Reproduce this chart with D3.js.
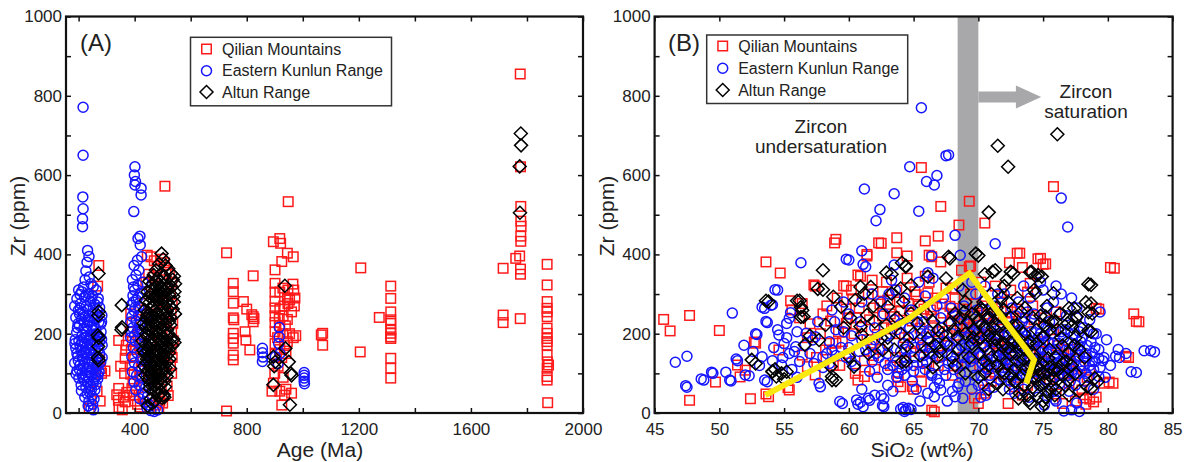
<!DOCTYPE html>
<html>
<head>
<meta charset="utf-8">
<script src="https://cdn.jsdelivr.net/npm/d3@7"></script>
<style>
  body { margin: 0; background: #fff; }
  svg { display: block; font-family: "Liberation Sans", Arial, Helvetica, sans-serif; }
</style>
</head>
<body>
<svg id="chart" width="1189" height="462"></svg>
<script>
// ---------- Series names and legend ----------
const seriesNames = ["Qilian Mountains", "Eastern Kunlun Range", "Altun Range"];

// ---------- Panel A: Zr (ppm) against age (Ma), [age, Zr] ----------
const qilianAge = [
  [272,372],[268,320],[275,134],[278,112],[294,106],[282,100],[238,12],[277,30],[266,55],
  [343,183],[370,171],[368,158],[366,138],[350,118],[343,62],[336,46],[342,32],[360,40],[366,28],[344,14],[356,8],[372,52],[364,100],[382,45],
  [386,250],[390,228],[384,205],[392,180],[388,160],[395,140],[390,120],[386,98],[394,80],[390,62],[398,45],[402,30],[410,22],[420,15],[430,40],[436,70],
  [445,398],[458,394],[470,384],[494,388],[506,379],[480,370],[512,360],[524,350],[532,330],[528,300],[534,276],[530,250],[536,226],[532,204],[538,182],
  [530,160],[534,140],[528,120],[532,100],[420,260],[426,300],[440,330],[450,350],[466,342],[428,130],[424,110],[418,90],[412,198],[416,170],
  [476,20],[490,30],[500,25],[486,12],[516,68],[520,44],[508,572],[470,300],[460,250],[480,200],[490,150],[470,100],[455,180],[500,280],[510,230],[495,60],
  [728,404],[728,5],[752,327],[752,306],[752,277],[752,240],[754,235],[752,201],[752,188],[752,176],[752,146],[752,134],
  [788,281],[800,262],[823,243],[823,230],[794,205],[797,184],[811,159],[823,346],[818,248],[826,238],
  [895,432],[918,440],[921,428],[901,361],[925,382],[945,403],[966,394],[948,533],[901,327],[901,305],[918,305],[929,315],[947,310],[945,290],
  [953,285],[901,282],[901,265],[918,262],[932,270],[947,276],[960,255],[901,245],[916,238],[930,245],[945,236],[901,228],[918,220],[938,220],
  [953,200],[966,190],[901,205],[929,200],[910,190],[935,170],[901,175],[945,180],[918,160],[940,150],[901,148],[925,140],[912,118],[900,100],
  [930,90],[895,75],[890,55],[918,55],[940,60],[935,45],[925,20],[960,50],[965,325],[968,310],[972,290],[970,270],[975,195],
  [1071,201],[1066,197],[1071,171],[1207,366],[1205,154],[1273,241],
  [1314,320],[1314,289],[1314,255],[1314,235],[1314,226],[1314,209],[1314,201],[1314,192],[1314,188],[1314,138],[1314,113],[1314,88],
  [1715,365],[1715,247],[1715,228],
  [1776,855],[1777,621],[1778,521],[1778,484],[1779,471],[1778,446],[1778,433],[1774,396],[1760,390],[1777,363],[1777,350],[1776,238],
  [1872,375],[1872,323],[1872,281],[1872,264],[1872,255],[1872,243],[1872,214],[1872,201],[1872,188],[1872,180],[1872,171],[1872,146],
  [1873,129],[1872,113],[1872,92],[1872,83],[1874,26],[1877,121]
];

const kunlunAge = [
  [216,771],[216,650],[215,545],[216,515],[214,490],[214,470],[232,410],[237,395],[230,380],[226,358],[223,336],[218,318],[211,306],[238,343],
  [244,326],[252,318],[263,310],[205,299],
  [194,288],[221,292],[236,301],[249,296],[270,289],[207,276],[228,270],[242,281],[258,274],[275,266],[199,259],[215,255],[233,262],[251,249],
  [266,257],[283,246],[190,241],[210,236],[224,243],[239,230],[257,238],[272,229],[203,221],[219,214],[246,219],[262,212],[280,205],[193,203],
  [213,197],[229,206],[240,190],[255,199],[271,193],[201,182],[222,176],[236,185],[250,171],[266,179],[284,171],[190,163],[209,158],[227,165],
  [243,152],[259,160],[275,150],[197,143],[215,137],[232,146],[248,133],[264,141],[186,126],[205,121],[222,128],[238,115],[255,124],[270,118],
  [194,106],[212,100],[229,109],[245,96],[261,103],[201,88],[219,83],[236,91],[252,77],[268,86],[209,71],[226,64],[243,69],[258,58],[231,48],
  [248,42],[237,30],[250,22],[244,12],[253,8],[219,152],[234,233],[253,266],[212,180],[268,134],[198,225],[243,172],[260,92],[228,192],[217,247],
  [206,264],[279,224],[273,104],[188,185],[191,98],
  [200,310],[226,296],[246,288],[268,280],[186,270],[203,250],[221,228],[236,244],[255,222],[267,240],[282,230],[196,215],[231,220],[250,208],
  [265,198],[282,186],[187,175],[205,170],[219,190],[243,196],[258,184],[274,180],[194,150],[212,145],[225,155],[240,160],[253,146],[270,160],
  [284,140],[199,132],[216,118],[234,124],[250,110],[263,120],[279,128],[203,110],[224,96],[241,104],[255,86],[269,96],[215,90],[232,78],
  [246,60],[262,72],[222,40],[240,52],[255,35],[234,18],[210,56],
  [401,621],[399,600],[403,584],[401,575],[423,567],[423,550],[397,508],[419,446],[420,424],[425,394],[410,385],[398,372],[415,360],[405,348],
  [392,336],[411,322],[400,310],[420,302],[394,296],[406,285],[388,272],[415,268],[398,258],[426,250],[390,244],[405,232],[418,224],[393,215],
  [410,206],[428,198],[386,190],[402,182],[418,174],[395,165],[432,160],[408,152],[390,142],[422,136],[399,126],[414,118],[436,112],[392,104],
  [407,95],[425,88],[398,78],[416,70],[440,64],[404,58],[428,50],[446,42],[418,36],[438,28],[452,20],[444,12],[458,6],[470,4],[482,8],
  [434,190],[440,240],[445,150],[430,330],[412,440],[386,230],[396,318],[412,292],[402,266],[389,205],[414,246],[400,196],[421,210],[395,280],
  [856,163],[856,152],[856,130],[858,141],[916,216],[916,192],[914,175],[918,150],[902,142],[912,125],
  [1005,102],[1005,95],[1005,88],[1005,80],[1006,74]
];

const altunAge = [
  [271,352],[272,256],[270,246],[268,196],[272,190],[270,168],[269,140],[271,133],[354,272],[353,210],[355,216],
  [496,402],[502,388],[488,376],[510,372],[476,360],[520,364],[530,352],[540,345],[536,336],[544,326],[532,318],[542,306],[538,294],[540,280],
  [536,262],[544,250],[538,186],[542,178],[534,170],[468,348],[482,340],[495,352],[506,344],[452,332],[464,326],[478,318],[492,330],[504,322],
  [516,312],[446,306],[458,300],[472,296],[486,308],[498,300],[510,290],[522,298],[440,284],[452,278],[466,272],[480,286],[494,276],[506,268],
  [518,280],[436,260],[448,254],[462,264],[476,250],[490,258],[502,246],[514,256],[526,242],[442,238],[456,232],[470,240],[484,228],[498,236],
  [510,224],[522,230],[438,216],[450,210],[464,218],[478,206],[492,214],[504,202],[516,210],[444,194],[458,188],[472,196],[486,184],[500,192],
  [512,180],[440,172],[452,166],[466,174],[480,162],[494,170],[506,158],[518,166],[436,150],[448,144],[462,152],[476,140],[490,148],[502,136],
  [514,144],[442,128],[456,122],[470,130],[484,118],[498,126],[510,114],[446,106],[460,100],[474,108],[488,96],[500,104],[514,92],[450,84],
  [464,78],[478,86],[492,74],[506,80],[454,62],[468,56],[482,64],[496,52],[504,46],[506,40],[458,36],[472,30],[446,18],[462,24],[432,226],
  [428,182],[434,118],[524,136],[526,112],[520,200],
  [445,245],[459,240],[473,258],[487,242],[501,254],[515,240],[448,222],[461,206],[475,224],[489,200],[503,218],[517,196],[441,200],[455,176],
  [469,186],[483,174],[497,180],[511,168],[447,158],[461,140],[475,156],[489,134],[503,146],[517,130],[444,136],[458,112],[472,118],[486,106],
  [500,114],[512,100],[452,92],[466,90],[480,74],[494,86],[508,66],[456,72],[470,68],[484,44],[498,38],[455,292],[469,284],[483,298],[497,288],
  [511,278],[462,312],[476,330],[490,318],[505,310],[519,320],[526,268],[527,222],[528,186],[522,152],[431,158],[438,95],
  [936,321],[938,163],[950,129],[957,100],[895,142],[902,129],[898,118],[895,71],[954,21],[960,95],
  [1778,705],[1779,675],[1774,622],[1775,505]
];

// ---------- Panel B: Zr (ppm) against SiO2 (wt%), [SiO2, Zr] ----------
const qilianSi = [
  [45.7,236],[46.2,207],[47.7,246],[47.7,32],[50.0,208],[49.7,78],[52.4,36],[52.7,179],[51.4,121],[53.6,381],[54.7,353],[53.6,48],[55.3,64],
  [55.5,283],[57.3,323],[58.9,429],[59.0,438],[59.6,321],[60.7,348],[61.4,400],[62.3,429],[63.7,442],[63.7,404],[64.5,396],[65.6,619],[65.9,434],
  [66.2,398],[66.9,446],[67.1,521],[68.5,474],[69.3,534],[70.5,479],[69.4,371],[73.0,403],[72.4,379],[74.6,389],[75.0,375],[75.8,571],[80.2,367],
  [79.1,264],[82.0,250],[82.2,231],[81.4,143],[80.1,78],[63.8,79],[63.8,92],[64.9,67],[66.4,7],[65.6,79],[69.7,38],[70.5,50],
  [52.0,108],[51.6,91],[52.8,176],[54.6,159],[55.4,58],[53.8,41],[55.6,260],[56.4,276],[56.8,117],[57.4,96],[58.5,176],[58.2,159],[56.4,146],
  [57.4,320],[62.5,428],[61.4,396],[60.9,345],[61.8,335],[59.8,320],[62.6,306],[65.1,306],[66.1,303],[67.8,269],[63.5,243],[59.8,226],[59.0,176],
  [61.8,176],[60.7,83],[61.2,92],[64.0,66],[65.0,60],[66.6,3],[70.0,24],[70.5,58],[66.4,394],[67.1,381],[69.3,369],[68.7,360],[73.2,403],
  [73.4,367],[74.8,390],[75.2,376],[74.0,327],[80.5,365],[79.3,262],[82.4,230],[81.6,140],[80.4,75],[79.7,75],[78.6,108],[78.3,22],[78.6,35],
  [78.9,28],[79.1,40],[78.0,58],[78.1,38],[77.0,75],[76.5,24],[72.8,66],[72.3,24],[73.4,45],[76.0,48],[77.5,30],[75.5,85],
  [58.0,250],[58.6,232],[59.2,205],[59.8,262],[60.3,288],[60.6,240],[61.0,218],[61.5,300],[61.9,265],[62.2,198],[62.6,245],[63.0,285],
  [63.3,212],[63.7,310],[64.0,258],[64.3,190],[64.6,276],[64.9,232],[65.2,298],[65.5,214],[65.8,262],[66.1,180],[66.4,244],[66.7,290],
  [67.0,205],[67.3,252],[67.6,170],[67.9,232],[68.2,288],[68.5,196],[68.8,262],[69.1,215],[69.4,300],[69.7,245],[70.0,188],[70.3,270],
  [70.6,222],[70.9,160],[71.2,250],[71.5,195],[71.8,280],[72.1,148],[72.4,228],[72.7,180],[73.0,262],[73.3,120],[73.6,205],[74.0,150],
  [74.3,235],[74.6,110],[75.0,180],[75.4,130],[75.8,210],[76.2,100],[76.6,160],[77.0,130],[77.4,95],[77.8,120],[60.0,150],[61.2,132],
  [62.4,160],[63.6,140],[64.8,155],[66.0,128],[67.2,145],[68.4,120],[69.6,138],[70.8,112],[72.0,98],[57.5,140],[56.8,190],[58.8,120],
  [62.0,110],[65.5,105],[68.0,95],[71.0,80],[73.8,70],[57.0,225],[66.2,330],[70.2,330],[72.5,310],[68.0,315],[64.5,340],[59.5,180],
  [58.3,270],[59.1,290],[59.9,240],[60.8,265],[61.6,235],[62.4,275],[63.2,250],[63.9,280],[64.7,245],[65.4,270],[66.3,260],[67.2,275],
  [68.0,250],[68.9,235],[69.8,275],[70.7,250],[71.6,235],[72.5,255],[73.4,240],[74.2,270],[75.1,240],[76.0,255],[60.4,200],[61.4,185],
  [62.7,215],[63.9,200],[65.0,175],[66.5,215],[67.6,195],[68.6,225],[69.6,205],[70.5,195],[71.5,175],[72.3,165],[73.5,180],[74.7,155],
  [76.1,170],[77.2,160],[78.2,140],[59.3,120],[60.5,100],[61.9,145],[63.2,120],[64.3,130],[65.7,165],[66.9,120],[68.8,140],[70.1,120],
  [71.3,100],[72.6,130],[74.1,90],[75.5,105],[77.0,100],[78.4,90],[62.9,330],[60.2,310],[65.9,345],[67.5,315],[71.3,320],[73.8,305],
  [56.2,240],[57.8,200]
];

const kunlunSi = [
  [65.6,770],[67.5,649],[66.8,599],[66.0,584],[66.6,575],[64.7,621],[61.2,565],[63.5,553],[62.4,513],[62.1,485],[65.4,509],[68.2,448],[68.6,398],
  [71.3,427],[76.4,542],[76.9,469],[56.3,379],[54.3,311],[51.0,252],[59.8,388],[61.0,409],[61.1,375],[46.6,128],[47.5,143],[47.4,69],[48.6,86],
  [49.4,103],[50.8,83],[50.5,103],[51.9,171],[52.8,200],[53.6,231],[54.1,273],[53.3,267],[51.3,136],[52.3,94],[53.5,83],[59.3,29],[60.6,33],
  [60.9,27],[61.5,37],[62.5,44],[62.6,19],[64.0,10],[64.2,14],[64.4,8],[64.6,12],[64.8,9],[64.3,4],[81.4,150],[80.6,143],[81.8,104],[82.8,157],
  [83.3,157],[79.3,138],[76.6,5],[77.2,8],[77.8,4],
  [50.9,81],[51.4,132],[52.0,96],[52.9,198],[53.3,142],[53.7,228],[53.5,264],[54.0,272],[54.5,310],[54.1,132],[54.6,197],[54.5,210],[55.2,226],
  [55.4,239],[55.5,253],[54.8,121],[55.4,150],[55.8,155],[55.9,167],[56.7,201],[57.2,184],[57.4,192],[57.7,75],[57.8,66],[58.0,142],[58.5,125],
  [58.7,159],[53.7,79],[49.5,100],[48.8,83],[47.5,65],
  [66.1,354],[66.4,396],[63.3,335],[60.0,386],[61.3,369],[63.5,373],[67.7,651],[59.5,24],[60.7,22],[61.1,16],[61.6,32],[62.7,36],[62.7,16],
  [66.1,50],[66.6,41],[67.1,58],[68.2,41],[68.8,37],[68.4,66],[69.5,60],[70.0,70],[65.5,30],[67.6,30],[80.9,140],[82.2,102],[83.6,154],
  [79.6,132],[79.3,92],
  [58.5,180],[59.0,210],[59.4,165],[59.8,140],[60.2,195],[60.5,120],[60.9,230],[61.3,160],[61.6,105],[62.0,185],[62.3,140],[62.7,250],
  [63.0,170],[63.4,120],[63.7,210],[64.0,155],[64.3,95],[64.6,190],[65.0,140],[65.3,230],[65.6,170],[65.9,110],[66.2,205],[66.5,150],
  [66.8,85],[67.1,240],[67.4,180],[67.7,125],[68.0,200],[68.3,160],[68.6,100],[68.9,270],[69.2,190],[69.5,140],[69.8,300],[70.1,220],
  [70.4,165],[70.7,110],[71.0,260],[71.3,195],[71.6,145],[71.9,90],[72.2,240],[72.5,180],[72.8,130],[73.1,280],[73.4,205],[73.7,155],
  [74.0,100],[74.3,250],[74.6,190],[74.9,140],[75.2,85],[75.5,230],[75.8,175],[76.1,125],[76.4,300],[76.7,210],[77.0,160],[77.3,110],
  [77.6,240],[77.9,180],[78.2,130],[78.5,90],[78.8,150],[79.1,200],[61.0,60],[63.0,70],[65.2,60],[67.0,75],[69.0,80],[71.2,65],[73.5,60],
  [75.6,55],[77.5,70],[62.2,90],[64.5,120],[66.0,130],[67.5,95],[69.6,115],[71.5,120],[73.0,110],[74.5,115],[76.2,95],[78.0,105],[60.0,250],
  [62.5,280],[64.8,260],[66.8,270],[68.2,245],[70.5,285],[72.0,300],[74.0,290],[75.8,280],[77.2,290],[76.0,320],[75.0,310],[65.5,185],
  [66.3,165],[67.0,140],[68.7,170],[69.9,180],[70.9,150],[72.1,160],[73.3,170],[74.4,160],[75.3,150],[76.6,140],[77.8,145],[68.0,130],
  [69.3,225],[70.3,125],[71.7,215],[72.7,95],[73.9,220],[75.1,195],[76.9,180],[78.4,170],[64.0,225],[63.2,200],[62.0,215],[61.0,185],
  [60.0,165],[59.0,145],[58.0,115],[57.0,150],[56.2,130],[55.6,110],[56.0,90],[55.0,175],[57.6,230],[58.7,260],[59.6,280],[61.8,300],
  [63.6,310],[65.4,330],[66.5,340],[68.5,320],[69.5,330],[70.5,320],[71.5,300],[73.5,320],[74.8,330],
  [70.8,240],[71.8,175],[72.9,205],[74.2,180],[75.4,120],[76.8,115],[77.4,200],[78.1,215],[78.9,110],[69.1,150],[70.2,95],[73.6,135],
  [74.7,70],[76.3,75],[72.4,60],[70.6,45],[73.9,40],[75.9,35],[67.9,265],[68.8,215],[66.9,190],[65.8,230],[64.2,175],[63.8,100],[62.8,125],
  [62.1,150],[62.9,195],[63.5,235],[64.1,110],[64.7,215],[65.1,165],[65.7,125],[66.0,200],[66.4,95],[66.9,175],[67.2,215],[67.6,150],
  [68.1,110],[68.4,235],[68.9,140],[69.3,170],[69.7,95],[70.0,205],[70.2,145],[70.6,190],[71.0,120],[71.1,230],[71.4,165],[71.8,135],
  [72.0,205],[72.3,110],[72.6,150],[72.9,245],[73.2,140],[73.5,185],[73.8,115],[74.1,205],[74.3,130],[74.7,225],[75.0,160],[75.3,105],
  [75.6,200],[75.9,140],[76.2,175],[76.5,110],[76.8,245],[77.1,135],[77.4,170],[77.7,100],[78.0,190],[78.3,150],[78.6,120],[79.0,165],
  [79.4,115],[79.7,140],[74.0,140],[73.2,95],[71.6,85],[70.4,70],[68.5,75],[66.6,65],[64.9,80],[63.4,55],[62.0,45],[72.8,50],[74.6,40],
  [76.0,30],[77.6,25],[75.1,20],[78.9,60],[77.0,55],[79.8,90],[70.2,40],[68.0,55],[66.4,100],[65.0,105],[63.7,90],[61.8,130],[60.8,155],
  [60.2,130],[59.6,205],[58.9,230],[58.3,150],[57.3,125],[56.6,170],[56.0,205],[55.2,190],[54.2,165],[53.1,120],[52.6,155],[54.9,140],
  [69.9,260],[71.3,270],[72.6,265],[73.8,255],[75.3,265],[76.3,250],[77.6,265],[78.6,235],[79.4,255],[67.3,290],[65.9,295],[64.3,290],
  [63.1,300],[61.0,280],[66.2,150],[67.8,170],[69.4,200],[70.8,185],[72.3,195],[73.7,195],[75.1,175],[76.4,205],[77.8,205],[78.9,200],
  [74.8,100],[76.0,110],[77.2,125],[73.1,165],[71.9,150],[70.6,130],[69.0,125],[67.4,110],[65.8,145],[64.4,140],[63.0,150],[61.7,170],
  [68.3,185],[69.7,160],[70.9,205],[72.4,125],[73.4,230],[74.2,125],[75.7,130],[76.9,95],[78.2,80],[80.2,120],[79.9,185],[80.8,160],
  [70.1,150],[70.5,115],[70.9,95],[71.2,180],[71.6,200],[71.9,115],[72.1,135],[72.4,215],[72.7,165],[73.0,85],[73.3,120],[73.6,240],
  [73.9,175],[74.2,150],[74.5,135],[74.8,200],[75.1,140],[75.4,180],[75.7,110],[76.0,160],[76.3,130],[76.6,190],[76.9,150],[77.2,100],
  [77.5,140],[77.8,170],[78.1,120],[78.4,140],[78.7,180],[79.0,130],[79.3,160],[74.5,80],[75.9,90],[77.1,80],[78.3,100],[73.7,90],
  [72.5,80],[71.4,140],[70.3,175],[69.4,130],[68.7,120],[67.9,145],[67.1,165],[66.3,180],[65.6,200],[65.0,120],[64.4,160],[63.7,130],
  [63.0,110],[69.0,165],[70.7,155],[72.0,140],[73.4,145],[74.9,165],[76.1,145],[77.5,155],[78.8,130],[76.9,205],[75.2,215],[73.2,210]
];

const altunSi = [
  [76.1,703],[71.5,674],[72.3,621],[70.8,506],[69.8,402],[67.7,394],[58.0,360],[53.6,283],[56.0,283],[56.3,267],[56.3,242],[57.6,313],[78.5,325],
  [78.3,279],[78.5,254],[78.5,208],[77.0,264],[71.1,356],[72.5,356],[74.0,355],[74.4,346],[62.9,354],[64.1,379],[64.4,371],[55.2,104],[54.3,110],
  [54.1,105],[58.7,92],[64.1,129],[79.0,88],[78.4,67],
  [70.0,397],[67.8,390],[64.4,369],[63.3,350],[66.1,344],[67.5,339],[70.5,350],[71.3,360],[58.8,293],[60.9,318],[61.7,318],[61.2,301],[60.5,285],
  [59.4,268],[63.3,301],[64.0,314],[64.8,322],[63.0,268],[64.2,280],[64.8,251],[65.6,272],[61.4,247],[60.9,218],[62.9,222],[62.6,159],[61.0,197],
  [60.0,142],[59.0,83],[60.4,117],[64.4,130],[66.1,188],[66.9,209],[67.8,226],[68.2,251],[68.4,192],
  [72.7,352],[74.1,356],[74.6,348],[74.9,344],[72.2,336],[74.3,310],[74.4,302],[75.8,302],[78.7,323],[78.7,276],[78.8,251],[78.7,205],[77.4,264],
  [77.6,243],[77.2,218],[75.2,243],[75.7,230],[76.9,226],[75.4,138],[74.5,175],[75.8,109],[76.5,125],[76.9,83],[79.2,79],[78.7,62],[75.7,66],
  [75.2,41],[74.4,58],[73.9,33],[73.1,37],[74.9,16],[72.8,79],
  [58.0,311],[53.8,281],[56.2,283],[56.4,259],[56.5,243],[58.2,222],[57.7,184],[56.6,172],[52.5,134],[52.8,125],[54.1,104],[54.4,92],[54.8,100],
  [55.0,85],[58.7,83],[58.6,117],
  [69.0,280],[69.5,250],[70.0,230],[70.3,260],[70.6,210],[70.9,240],[71.2,190],[71.5,220],[71.8,170],[72.1,200],[72.4,150],[72.7,180],[73.0,130],
  [73.3,160],[73.6,110],[73.9,140],[74.2,90],[74.5,120],[74.8,70],[75.1,100],[75.4,55],[70.0,150],[70.5,170],[71.0,140],[71.5,120],[72.0,260],
  [72.5,240],[73.0,220],[73.5,200],[74.0,180],[74.5,210],[75.0,190],[75.5,160],[76.0,140],[76.5,170],[77.0,150],[77.5,190],[69.5,175],[69.0,200],
  [68.5,160],[68.0,140],[67.5,175],[67.0,155],[66.5,230],[66.0,250],[65.0,200],[64.5,170],[63.5,160],[63.0,190],[62.0,230],[61.5,150],[65.5,145],
  [66.5,115],[69.0,100],[70.0,90],[71.5,75],[72.5,95],[73.5,70],[76.0,60],[77.0,45],[77.5,100],[76.5,95],[75.5,210],[76.0,230],[71.0,300],
  [72.0,320],[73.0,290],[68.8,310],[70.5,100],[71.8,105],[73.2,50],[74.0,25],[75.0,30],
  [69.2,230],[69.7,210],[70.2,190],[70.7,240],[71.1,215],[71.3,170],[71.7,245],[72.0,175],[72.2,125],[72.6,205],[72.9,150],[73.2,185],
  [73.4,95],[73.7,160],[74.0,120],[74.3,145],[74.6,95],[74.9,125],[75.2,80],[75.5,115],[75.8,85],[76.2,110],[76.8,130],[77.2,120],
  [77.8,160],[78.2,140],[70.4,280],[71.4,265],[72.3,280],[73.3,255],[74.2,240],[75.3,270],[76.3,250],[77.2,235],[68.6,240],[68.1,210],
  [67.2,200],[66.7,170],[66.0,160],[65.3,225],[64.0,200],[62.5,190],[71.9,60],[72.9,80],[74.2,65],[75.9,45],[76.7,70],[77.8,55],
  [73.8,45],[70.8,60],[69.3,140],[70.8,120],[72.0,100],[68.2,120],[66.8,140],[63.7,240],[61.9,270],[60.1,240],[59.6,215],[57.0,195],
  [69.8,240],[70.4,215],[70.8,195],[71.1,255],[71.4,185],[71.9,225],[72.3,165],[72.7,220],[73.1,175],[73.5,135],[73.8,175],[74.1,105],
  [74.4,135],[74.7,110],[75.1,75],[75.5,95],[72.8,110],[71.6,145],[70.5,130],[69.6,190],[76.4,190],[77.4,170],[76.1,210],[75.1,220],
  [77.9,215],[73.6,265],[74.8,245],[70.2,265],[68.9,255],[71.8,290]
];

// Zircon saturation trend drawn over panel B
const trendSi = [53.55, 64.5, 69.3, 74.3, 73.7];
const trendZr = [45, 235, 352, 134, 75];

// Saturation band and arrow (SiO2 wt%, Zr ppm)
const bandSi = [68.4, 70.0];
const arrowSi = [70.0, 72.9, 74.85];
const arrowZr = 797;

// Tick values
const zrTicks = d3.range(0, 1001, 100);
const zrLabels = [0, 200, 400, 600, 800, 1000];
const ageTicks = d3.range(200, 2001, 200);
const ageLabels = [400, 800, 1200, 1600, 2000];
const siTicks = [45, 50, 55, 60, 65, 70, 75, 80, 85];

// ---------- Layout ----------
const svg = d3.select("#chart");
const plotTop = 16.5, plotBottom = 413;
const y = d3.scaleLinear().domain([0, 1000]).range([plotBottom, plotTop]);
const xA = d3.scaleLinear().domain([155, 2000]).range([66, 583]);
const xB = d3.scaleLinear().domain([45, 85]).range([654.6, 1172.6]);

const colors = { square: "#ff1a1a", circle: "#1515ff", diamond: "#000000" };
const markStroke = 1.5;

function drawSeries(g, data, x, kind) {
  const grp = g.append("g").attr("fill", "none").attr("stroke", colors[kind]).attr("stroke-width", markStroke);
  if (kind === "square") {
    grp.selectAll("rect").data(data).join("rect")
      .attr("x", d => x(d[0]) - 4.75).attr("y", d => y(d[1]) - 4.75)
      .attr("width", 9.5).attr("height", 9.5);
  } else if (kind === "circle") {
    grp.selectAll("circle").data(data).join("circle")
      .attr("cx", d => x(d[0])).attr("cy", d => y(d[1])).attr("r", 5);
  } else {
    grp.selectAll("path").data(data).join("path")
      .attr("d", d => {
        const cx = x(d[0]), cy = y(d[1]), r = 6.5;
        return `M${cx},${cy - r}L${cx + r},${cy}L${cx},${cy + r}L${cx - r},${cy}Z`;
      });
  }
}

function legendSymbol(g, kind, cx, cy) {
  const s = g.append("g").attr("fill", "none").attr("stroke", colors[kind]).attr("stroke-width", markStroke);
  if (kind === "square") s.append("rect").attr("x", cx - 4.75).attr("y", cy - 4.75).attr("width", 9.5).attr("height", 9.5);
  else if (kind === "circle") s.append("circle").attr("cx", cx).attr("cy", cy).attr("r", 5);
  else s.append("path").attr("d", `M${cx},${cy - 6.5}L${cx + 6.5},${cy}L${cx},${cy + 6.5}L${cx - 6.5},${cy}Z`);
}

function drawLegend(g, left, topY, rows) {
  g.append("rect").attr("x", left).attr("y", topY).attr("width", 201).attr("height", 68.5)
    .attr("fill", "#fff").attr("stroke", "#333").attr("stroke-width", 1.5);
  const kinds = ["square", "circle", "diamond"];
  kinds.forEach((k, i) => {
    const cy = topY + rows[i];
    legendSymbol(g, k, left + 16, cy);
    g.append("text").attr("x", left + 31.5).attr("y", cy).attr("dy", "0.36em")
      .attr("font-size", 16).attr("fill", "#222").text(seriesNames[i]);
  });
}

function styleAxis(sel) {
  sel.select(".domain").remove();
  sel.selectAll(".tick line").attr("stroke", "#111").attr("stroke-width", 1.5);
  sel.selectAll(".tick text").attr("font-size", 17).attr("fill", "#222")
    .attr("font-family", "'Liberation Sans', Arial, sans-serif");
}

function drawFrame(g, x, xTicks, xLabelFn) {
  const [l, r] = x.range();
  g.append("g").attr("transform", `translate(0,${plotBottom})`)
    .call(d3.axisBottom(x).tickValues(xTicks).tickSize(-5).tickPadding(10).tickFormat(xLabelFn))
    .call(styleAxis);
  g.append("g").attr("transform", `translate(0,${plotTop})`)
    .call(d3.axisTop(x).tickValues(xTicks).tickSize(-5).tickFormat(""))
    .call(styleAxis);
  g.append("g").attr("transform", `translate(${l},0)`)
    .call(d3.axisLeft(y).tickValues(zrTicks).tickSize(-5).tickPadding(4)
      .tickFormat(d => zrLabels.includes(d) ? d : ""))
    .call(styleAxis);
  g.append("g").attr("transform", `translate(${r},0)`)
    .call(d3.axisRight(y).tickValues(zrTicks).tickSize(-5).tickFormat(""))
    .call(styleAxis);
  g.append("rect").attr("x", l).attr("y", plotTop).attr("width", r - l).attr("height", plotBottom - plotTop)
    .attr("fill", "none").attr("stroke", "#111").attr("stroke-width", 2.2);
}

// ---------- Panel A ----------
const gA = svg.append("g");
drawSeries(gA, qilianAge, xA, "square");
drawSeries(gA, kunlunAge, xA, "circle");
drawSeries(gA, altunAge, xA, "diamond");
drawLegend(gA, 190.5, 37.3, [11.7, 33.4, 54.7]);
gA.append("text").attr("x", 80).attr("y", 51).attr("font-size", 24).attr("fill", "#222").text("(A)");
drawFrame(gA, xA, ageTicks, d => ageLabels.includes(d) ? d : "");
gA.append("text").attr("x", 320).attr("y", 457).attr("text-anchor", "middle")
  .attr("font-size", 21).attr("fill", "#222").text("Age (Ma)");
gA.append("text").attr("transform", "translate(25,216) rotate(-90)").attr("text-anchor", "middle")
  .attr("font-size", 21).attr("fill", "#222").text("Zr (ppm)");

// ---------- Panel B ----------
const gB = svg.append("g");
const bandColor = "#a8a8ab";
gB.append("rect")
  .attr("x", xB(bandSi[0])).attr("y", plotTop)
  .attr("width", xB(bandSi[1]) - xB(bandSi[0])).attr("height", plotBottom - plotTop)
  .attr("fill", bandColor);
// arrow towards the saturation field
const ay = y(arrowZr);
gB.append("path")
  .attr("d", `M${xB(arrowSi[0])},${ay - 5.5}L${xB(arrowSi[1])},${ay - 5.5}L${xB(arrowSi[1])},${ay - 11.5}` +
             `L${xB(arrowSi[2])},${ay}L${xB(arrowSi[1])},${ay + 11.5}L${xB(arrowSi[1])},${ay + 5.5}L${xB(arrowSi[0])},${ay + 5.5}Z`)
  .attr("fill", bandColor);

drawSeries(gB, qilianSi, xB, "square");
drawSeries(gB, kunlunSi, xB, "circle");
drawSeries(gB, altunSi, xB, "diamond");

const trend = trendSi.map((s, i) => [s, trendZr[i]]);
gB.append("path")
  .attr("d", d3.line().x(d => xB(d[0])).y(d => y(d[1]))(trend))
  .attr("fill", "none").attr("stroke", "#fbe80c").attr("stroke-width", 6)
  .attr("stroke-linejoin", "miter");

drawLegend(gB, 706.7, 35, [11, 33.3, 55]);
gB.append("text").attr("x", 668).attr("y", 51).attr("font-size", 24).attr("fill", "#222").text("(B)");

const ann = gB.append("g").attr("font-size", 19).attr("fill", "#222").attr("text-anchor", "middle");
ann.append("text").attr("x", 821).attr("y", 133).text("Zircon");
ann.append("text").attr("x", 821).attr("y", 152.5).text("undersaturation");
ann.append("text").attr("x", 1086).attr("y", 98).text("Zircon");
ann.append("text").attr("x", 1086).attr("y", 117.5).text("saturation");

drawFrame(gB, xB, siTicks, d => d);
const sx = gB.append("text").attr("x", 922).attr("y", 457).attr("text-anchor", "middle")
  .attr("font-size", 21).attr("fill", "#222");
sx.append("tspan").text("SiO");
sx.append("tspan").attr("font-size", 15).text("2");
sx.append("tspan").text(" (wt%)");
gB.append("text").attr("transform", "translate(614,216) rotate(-90)").attr("text-anchor", "middle")
  .attr("font-size", 21).attr("fill", "#222").text("Zr (ppm)");
</script>
</body>
</html>
